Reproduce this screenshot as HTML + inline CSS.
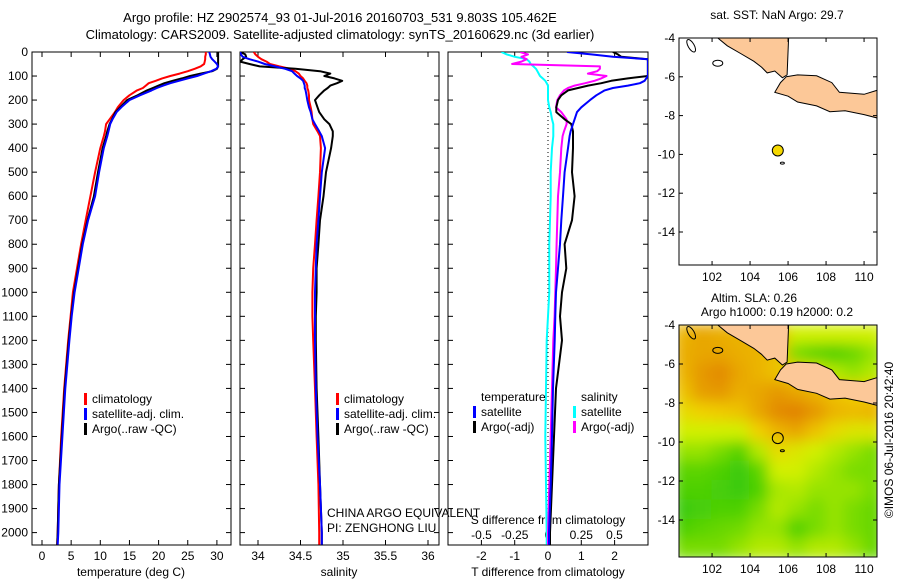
<!DOCTYPE html>
<html><head><meta charset="utf-8"><style>
html,body{margin:0;padding:0;background:#fff}
svg{display:block;font-family:"Liberation Sans",sans-serif;font-size:12px}
</style></head><body>
<svg id="fig" width="900" height="580" viewBox="0 0 900 580">
<defs>
<clipPath id="c1"><rect x="32" y="52" width="199" height="493"/></clipPath>
<clipPath id="c2"><rect x="240" y="52" width="199" height="493"/></clipPath>
<clipPath id="c3"><rect x="448" y="52" width="200" height="493"/></clipPath>
<clipPath id="cm1"><rect x="679" y="38" width="198" height="227"/></clipPath>
<clipPath id="cm2"><rect x="679" y="325" width="198" height="232"/></clipPath>
<filter id="blur" x="-5%" y="-5%" width="110%" height="110%"><feGaussianBlur stdDeviation="7"/></filter>
</defs>
<text x="340" y="22" text-anchor="middle" font-size="13">Argo profile: HZ 2902574_93 01-Jul-2016 20160703_531 9.803S 105.462E</text>
<text x="340" y="39" text-anchor="middle" font-size="13">Climatology: CARS2009. Satellite-adjusted climatology: synTS_20160629.nc (3d earlier)</text>
<g id="g1"></g>
<g id="g2"></g>
<g id="g3"></g>
<g id="gm1"></g>
<g id="gm2"></g>
<text transform="translate(893,440) rotate(-90)" text-anchor="middle" font-size="12">©IMOS 06-Jul-2016 20:42:40</text>
</svg>
<script>
// ---- data ----
const depths = [0,10,20,30,40,50,60,70,80,90,100,110,120,130,140,150,160,180,200,230,250,280,300,330,350,400,500,600,700,800,900,1000,1100,1200,1400,1600,1800,2000,2050];
const tempClim = [28.1,28.1,28.0,28.0,27.9,27.8,27.2,26.2,25.0,23.6,22.0,20.6,19.5,18.3,17.8,17.3,16.3,15.0,14.0,13.0,12.5,11.6,11.0,10.8,10.6,10.0,9.1,8.3,7.5,6.7,6.0,5.3,4.9,4.5,3.8,3.3,2.9,2.7,2.6];
const tempSat = [28.7,28.8,28.9,29.2,29.6,30.0,30.2,29.9,29.0,27.8,26.6,25.0,23.5,22.0,20.8,19.7,18.8,16.8,15.0,13.6,12.8,12.1,11.7,11.4,11.2,10.6,9.8,9.1,7.9,7.0,6.3,5.6,5.1,4.7,4.0,3.5,3.0,2.8,2.7];
const tempArgo = [30.2,30.2,30.2,30.2,30.2,30.2,30.2,30.0,29.2,27.2,25.4,24.0,22.4,21.0,20.0,19.0,18.0,16.4,14.6,13.4,12.6,12.0,11.6,11.2,11.0,10.4,9.6,8.9,7.8,6.9,6.2,5.5,5.0,4.6,3.9,3.4,2.9,2.7,2.6];
const salClim = [33.95,33.97,34.0,34.04,34.1,34.14,34.25,34.38,34.44,34.48,34.5,34.53,34.55,34.57,34.58,34.58,34.59,34.6,34.6,34.62,34.63,34.64,34.65,34.7,34.73,34.74,34.73,34.71,34.69,34.67,34.65,34.64,34.64,34.65,34.67,34.69,34.71,34.72,34.72];
const salSat = [33.79,33.8,33.82,33.9,34.0,34.08,34.2,34.32,34.4,34.43,34.46,34.5,34.53,34.54,34.55,34.55,34.56,34.57,34.58,34.6,34.62,34.64,34.67,34.72,34.75,34.79,34.75,34.73,34.71,34.69,34.68,34.67,34.67,34.67,34.68,34.7,34.73,34.75,34.75];
const salArgo = [33.79,33.85,33.86,33.82,33.79,33.9,34.02,34.44,34.73,34.85,34.78,34.9,34.99,34.93,34.85,34.82,34.78,34.72,34.67,34.7,34.72,34.78,34.84,34.88,34.88,34.86,34.8,34.77,34.73,34.71,34.69,34.69,34.68,34.68,34.69,34.71,34.73,34.75,34.75];
const dTsat = [0.57,1.3,1.95,3,3,3,3,3,3,3,3,2.95,2.9,2.76,2.4,1.95,1.7,1.45,1.26,1.0,0.87,0.8,0.75,0.68,0.65,0.6,0.5,0.45,0.4,0.36,0.3,0.24,0.22,0.2,0.15,0.12,0.08,0.03,0.03];
const dTargo = [1.95,2.1,2.2,3,3,3,3,3,3,3,3,2.4,1.9,1.6,1.2,0.9,0.6,0.4,0.3,0.25,0.25,0.5,0.7,0.75,0.75,0.75,0.72,0.8,0.72,0.5,0.55,0.42,0.36,0.42,0.24,0.18,0.12,0.06,0.06];
const dSsat = [-0.35,-0.31,-0.25,-0.16,-0.14,-0.13,-0.11,-0.09,-0.08,-0.07,-0.06,-0.04,-0.02,-0.01,0,0,0,0,0,0.01,0.02,0.03,0.04,0.04,0.04,0.03,0.02,0.02,0.015,0.01,0.01,0.01,0.0,-0.01,-0.015,-0.02,-0.015,-0.01,-0.01];
const dSargo = [-0.21,-0.15,-0.2,-0.16,-0.2,-0.27,0.39,0.39,0.37,0.3,0.44,0.4,0.35,0.28,0.2,0.15,0.12,0.09,0.07,0.06,0.1,0.14,0.14,0.12,0.11,0.1,0.09,0.075,0.07,0.065,0.06,0.055,0.05,0.04,0.03,0.02,0.01,0.0,0.0];
const depthTicks = [0,100,200,300,400,500,600,700,800,900,1000,1100,1200,1300,1400,1500,1600,1700,1800,1900,2000];
const tempTicks = [0,5,10,15,20,25,30];
const salTicks = [34,34.5,35,35.5,36];
const salTickLabels = ["34","34.5","35","35.5","36"];
const dTTicks = [-2,-1,0,1,2];
const dSTicks = [-0.5,-0.25,0,0.25,0.5];
const dSTickLabels = ["-0.5","-0.25","0","0.25","0.5"];
const mapLatTicks = [-4,-6,-8,-10,-12,-14];
const mapLonTicks = [102,104,106,108,110];
const argoLon = 105.46, argoLat = -9.80;
const slaLons = [100.5,101.5,102.5,103.5,104.5,105.5,106.5,107.5,108.5,109.5,110.5];
const slaLats = [-4.5,-5.5,-6.5,-7.5,-8.5,-9.5,-10.5,-11.5,-12.5,-13.5,-14.5,-15.5];
const slaVals = [
[0.7,0.75,0.72,0.7,0.7,0.7,0.45,0.45,0.45,0.45,0.45],
[0.72,0.75,0.75,0.72,0.7,0.65,0.3,0.22,0.18,0.25,0.35],
[0.7,0.8,0.85,0.75,0.7,0.65,0.6,0.5,0.4,0.35,0.4],
[0.65,0.78,0.8,0.72,0.75,0.8,0.75,0.7,0.65,0.6,0.6],
[0.55,0.6,0.62,0.65,0.75,0.85,0.88,0.8,0.7,0.68,0.7],
[0.45,0.45,0.45,0.45,0.6,0.7,0.75,0.65,0.55,0.5,0.5],
[0.35,0.35,0.3,0.2,0.4,0.55,0.5,0.45,0.4,0.35,0.3],
[0.22,0.22,0.18,0.12,0.22,0.45,0.45,0.4,0.35,0.3,0.3],
[0.18,0.18,0.16,0.12,0.18,0.38,0.4,0.35,0.35,0.35,0.3],
[0.12,0.16,0.18,0.18,0.3,0.4,0.35,0.3,0.35,0.3,0.25],
[0.18,0.22,0.25,0.28,0.35,0.35,0.18,0.3,0.35,0.3,0.25],
[0.3,0.3,0.3,0.35,0.4,0.4,0.35,0.4,0.4,0.35,0.25]];
const sumatra = [[102.3,-3.5],[106.05,-3.5],[105.95,-5.9],[105.7,-6.05],[105.3,-5.7],[104.9,-5.8],[104.6,-5.5],[104.2,-5.2],[103.5,-4.8],[102.8,-4.4],[102.3,-4.0]];
const java = [[105.9,-6.0],[106.5,-5.9],[107.5,-5.95],[108.3,-6.3],[108.7,-6.8],[110.0,-6.9],[111,-6.6],[111,-8.2],[110,-7.95],[109,-7.75],[108.2,-7.8],[107.5,-7.5],[106.5,-7.3],[106.0,-7.0],[105.3,-6.8],[105.6,-6.3]];
// ---- helpers ----
const NS="http://www.w3.org/2000/svg";
function mk(tag,attrs,parent,txt){const e=document.createElementNS(NS,tag);for(const k in attrs)e.setAttribute(k,attrs[k]);if(txt!==undefined)e.textContent=txt;parent.appendChild(e);return e;}
const Y0=52, PX100=24.03;
const yD = d => Y0 + d*PX100/100;
const xT = t => 42 + t*5.83;
const xS = s => 258 + (s-34)*85;
const xDT = t => 548 + t*33.3;
const xDS = s => 548 + s*133;
function frame(g,x,w,name){
  const r=mk('rect',{x:x,y:52,width:w,height:493,fill:'none',stroke:'#000','stroke-width':1},g);
  
  
  depthTicks.forEach(d=>{const y=yD(d);mk('line',{x1:x,y1:y,x2:x+5,y2:y,stroke:'#000'},g);mk('line',{x1:x+w-5,y1:y,x2:x+w,y2:y,stroke:'#000'},g);});
}
function xticks(g,vals,fx,labels,ylab,top){
  vals.forEach((v,i)=>{const x=fx(v);
    mk('line',{x1:x,y1:545,x2:x,y2:540,stroke:'#000'},g);
    if(top) mk('line',{x1:x,y1:52,x2:x,y2:57,stroke:'#000'},g);
    const t=mk('text',{x:x,y:ylab,'text-anchor':'middle'},g,labels?labels[i]:String(v));
    
    
  });
}
function line(g,xs,fx,color,w,clip,name){
  const pts=xs.map((v,i)=>fx(v).toFixed(1)+','+yD(depths[i]).toFixed(1)).join(' ');
  const p=mk('polyline',{points:pts,fill:'none',stroke:color,'stroke-width':w,'stroke-linejoin':'round','clip-path':'url(#'+clip+')'},g);
  
  
}
function legend(g,x,y,color,label){
  mk('rect',{x:x,y:y-10,width:3,height:12,fill:color},g);
  const t=mk('text',{x:x+8,y:y},g,label);
  
  
}
// ---- panel 1 ----
const g1=document.getElementById('g1');
frame(g1,32,199,'temperature-plot-frame');
depthTicks.forEach(d=>{const t=mk('text',{x:28,y:yD(d)+4,'text-anchor':'end'},g1,String(d));
  
  });
xticks(g1,tempTicks,xT,null,560,true);
mk('text',{x:131,y:576,'text-anchor':'middle'},g1,'temperature (deg C)');
line(g1,tempClim,xT,'#f00',2,'c1','temp-climatology-line');
line(g1,tempArgo,xT,'#000',2,'c1','temp-argo-line');
line(g1,tempSat,xT,'#00f',2,'c1','temp-satellite-line');
legend(g1,84,403,'#f00','climatology');
legend(g1,84,418,'#00f','satellite-adj. clim.');
legend(g1,84,433,'#000','Argo(..raw -QC)');
// ---- panel 2 ----
const g2=document.getElementById('g2');
frame(g2,240,199,'salinity-plot-frame');
xticks(g2,salTicks,xS,salTickLabels,560,true);
mk('text',{x:339,y:576,'text-anchor':'middle'},g2,'salinity');
line(g2,salClim,xS,'#f00',2,'c2','sal-climatology-line');
line(g2,salArgo,xS,'#000',2,'c2','sal-argo-line');
line(g2,salSat,xS,'#00f',2,'c2','sal-satellite-line');
legend(g2,336,403,'#f00','climatology');
legend(g2,336,418,'#00f','satellite-adj. clim.');
legend(g2,336,433,'#000','Argo(..raw -QC)');
mk('text',{x:327,y:517},g2,'CHINA ARGO EQUIVALENT');
mk('text',{x:327,y:532},g2,'PI: ZENGHONG LIU');
// ---- panel 3 ----
const g3=document.getElementById('g3');
frame(g3,448,200,'difference-plot-frame');
mk('line',{x1:548,y1:52,x2:548,y2:545,stroke:'#000','stroke-dasharray':'1,3'},g3);
xticks(g3,dTTicks,xDT,null,560,true);
dSTicks.forEach((v,i)=>{const t=mk('text',{x:xDS(v),y:539,'text-anchor':'middle'},g3,dSTickLabels[i]);
  
  });
mk('text',{x:548,y:524,'text-anchor':'middle'},g3,'S difference from climatology');
mk('text',{x:548,y:576,'text-anchor':'middle'},g3,'T difference from climatology');
line(g3,dSsat,xDS,'#0ff',2,'c3','s-diff-satellite-line');
line(g3,dSargo,xDS,'#f0f',2,'c3','s-diff-argo-line');
line(g3,dTargo,xDT,'#000',2,'c3','t-diff-argo-line');
line(g3,dTsat,xDT,'#00f',2,'c3','t-diff-satellite-line');
mk('text',{x:481,y:401},g3,'temperature');
mk('text',{x:581,y:401},g3,'salinity');
legend(g3,473,416,'#00f','satellite');
legend(g3,473,431,'#000','Argo(-adj)');
legend(g3,573,416,'#0ff','satellite');
legend(g3,573,431,'#f0f','Argo(-adj)');
// ---- maps ----
function mapAxes(g,top,h,latTop,pxLat,clip,name){
  const lx=lon=>679+(lon-100.26)*19;
  const ly=lat=>top+(latTop-lat)*pxLat;
  return {lx,ly};
}
function drawMap(gid,top,h,pxLat,heat,name){
  const g=document.getElementById(gid);
  const lx=lon=>679+(lon-100.26)*19;
  const ly=lat=>top+(-4-lat)*pxLat;
  const clip=gid==='gm1'?'cm1':'cm2';
  if(heat){
    const cmap=v=>{const stops=[[0,[16,190,16]],[0.3,[120,220,0]],[0.45,[210,240,0]],[0.6,[240,208,0]],[0.9,[224,124,0]]];
      for(let i=1;i<stops.length;i++){if(v<=stops[i][0]){const a=stops[i-1],b=stops[i],f=(v-a[0])/(b[0]-a[0]);return 'rgb('+a[1].map((c,k)=>Math.round(c+(b[1][k]-c)*f)).join(',')+')';}}return 'rgb(224,124,0)';};
    const hg=mk('g',{'clip-path':'url(#'+clip+')'},g);
    const bg=mk('g',{filter:'url(#blur)'},hg);
    slaLats.forEach((lat,r)=>slaLons.forEach((lon,c)=>{
      const cell=mk('rect',{x:lx(lon-0.5)-1,y:ly(lat+0.5)-1,width:19*1+2,height:pxLat+2,fill:cmap(slaVals[r][c])},bg);
      
      
    }));
  }
  const lg=mk('g',{'clip-path':'url(#'+clip+')'},g);
  [sumatra,java].forEach((poly,i)=>{
    const p=mk('polygon',{points:poly.map(q=>lx(q[0]).toFixed(1)+','+ly(q[1]).toFixed(1)).join(' '),fill:'#fcc898',stroke:'#000','stroke-width':1},lg);
    
    
  });
  mk('ellipse',{cx:lx(100.9),cy:ly(-4.4),rx:3,ry:7,fill:'none',stroke:'#000',transform:'rotate(-30 '+lx(100.9)+' '+ly(-4.4)+')'},lg);
  mk('ellipse',{cx:lx(102.3),cy:ly(-5.3),rx:5,ry:3,fill:'none',stroke:'#000'},lg);
  mk('ellipse',{cx:lx(105.7),cy:ly(-10.45),rx:2,ry:1,fill:'none',stroke:'#000'},lg);
  const fr=mk('rect',{x:679,y:top,width:198,height:h,fill:'none',stroke:'#000'},g);
  
  
  mapLatTicks.forEach(v=>{const y=ly(v);mk('line',{x1:679,y1:y,x2:683,y2:y,stroke:'#000'},g);mk('line',{x1:873,y1:y,x2:877,y2:y,stroke:'#000'},g);
    const t=mk('text',{x:675,y:y+4,'text-anchor':'end'},g,String(v));
    
    });
  mapLonTicks.forEach(v=>{const x=lx(v);mk('line',{x1:x,y1:top,x2:x,y2:top+4,stroke:'#000'},g);mk('line',{x1:x,y1:top+h,x2:x,y2:top+h-4,stroke:'#000'},g);
    const t=mk('text',{x:x,y:top+h+16,'text-anchor':'middle'},g,String(v));
    
    });
  const dot=mk('circle',{cx:lx(argoLon),cy:ly(argoLat),r:5.5,fill:heat?'none':'#f5d800',stroke:'#000','stroke-width':1},g);
  
  
}
drawMap('gm1',38,227,19.4,false,'sst-map');
drawMap('gm2',325,232,19.5,true,'sla-map');
const gm1=document.getElementById('gm1'), gm2=document.getElementById('gm2');
mk('text',{x:777,y:19,'text-anchor':'middle'},gm1,'sat. SST: NaN Argo: 29.7');
mk('text',{x:754,y:302,'text-anchor':'middle'},gm2,'Altim. SLA: 0.26');
mk('text',{x:777,y:316,'text-anchor':'middle'},gm2,'Argo h1000: 0.19 h2000: 0.2');
</script>
</body></html>
